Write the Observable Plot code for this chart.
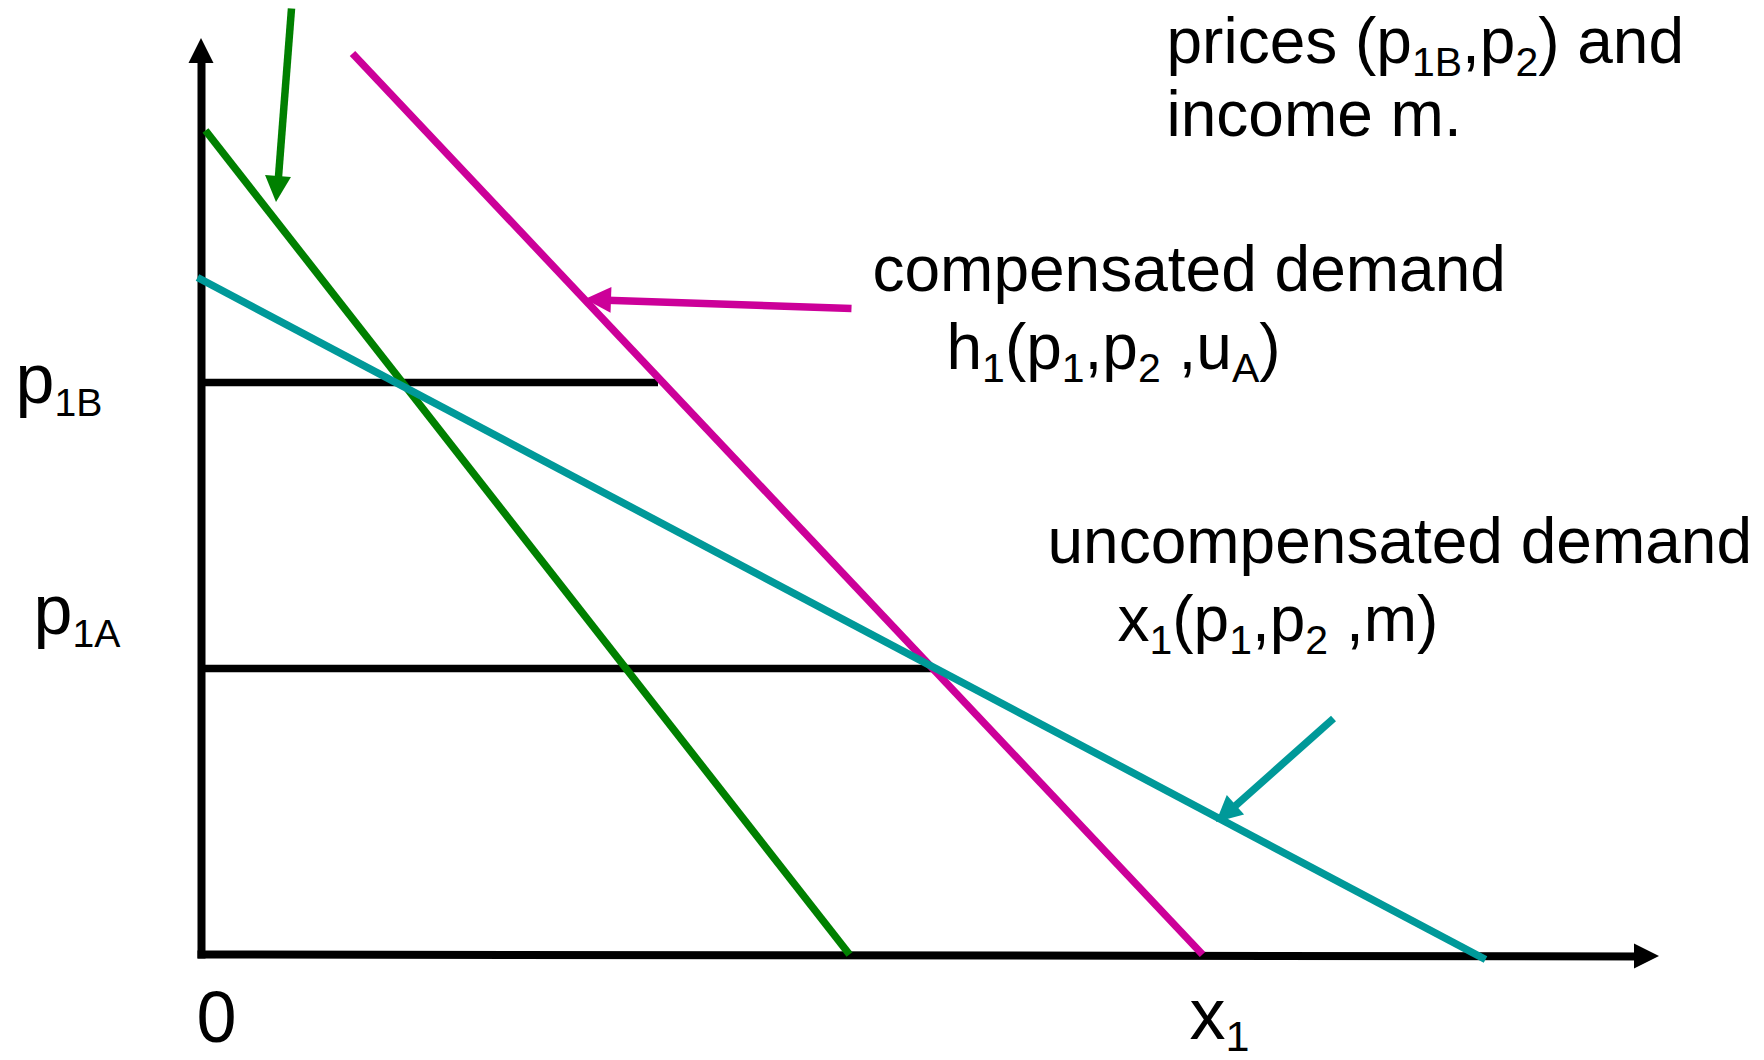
<!DOCTYPE html>
<html>
<head>
<meta charset="utf-8">
<script src="https://cdn.jsdelivr.net/npm/d3@7"></script>
<script src="https://cdn.jsdelivr.net/npm/@observablehq/plot@0.6"></script>
<style>
  html, body { margin: 0; padding: 0; background: #ffffff; }
  #chart { width: 1764px; height: 1060px; overflow: hidden; }
</style>
</head>
<body>
<div id="chart"></div>
<script>
// ---- data (quantity x1 on x, price p1 on y; abstract units) ----
const seriesNames = ["axis", "demand at (p1B,p2), m", "compensated demand", "uncompensated demand"];
const seriesColors = ["#000000", "#008000", "#CC0099", "#009999"];

// demand lines
const demandSeries = ["demand at (p1B,p2), m", "compensated demand", "uncompensated demand"];
const demandX1 = [0.04, 1.51, -0.04];
const demandY1 = [8.24, 9.01, 6.77];
const demandX2 = [6.48, 10.01, 12.84];
const demandY2 = [0, 0, -0.05];

// price levels
const priceNames = ["p_{1B}", "p_{1A}"];
const priceValues = [5.72, 2.86];
const priceQuantityEnds = [4.57, 7.32];
const priceLabelX = [-1.86, -1.68];
const priceLabelY = [5.52, 3.21];

// arrows (axes and pointers)
const arrowSeries = ["axis", "axis", "demand at (p1B,p2), m", "compensated demand", "uncompensated demand"];
const arrowX1 = [0, -0.04, 0.90, 6.50, 11.32];
const arrowY1 = [-0.04, 0, 9.46, 6.46, 2.36];
const arrowX2 = [0, 14.58, 0.75, 3.84, 10.15];
const arrowY2 = [9.16, -0.02, 7.52, 6.55, 1.32];

// annotations (multi-line notes: anchor is the baseline of the last line)
const noteTexts = ["prices (p_{1B},p_{2}) and\nincome m.", "compensated demand", "h_{1}(p_{1},p_{2} ,u_{A})", "uncompensated demand", "x_{1}(p_{1},p_{2} ,m)"];
const noteX = [9.65, 6.71, 7.45, 8.46, 9.16];
const noteY = [8.19, 6.64, 5.86, 3.92, 3.14];

// axis labels
const axisLabelTexts = ["0", "x_{1}"];
const axisLabelX = [0.15, 9.88];
const axisLabelY = [-0.87, -0.84];

// ---- tables ----
const demands = demandSeries.map((s, i) => ({series: s, x1: demandX1[i], y1: demandY1[i], x2: demandX2[i], y2: demandY2[i]}));
const levels = priceNames.map((n, i) => ({name: n, p: priceValues[i], q: priceQuantityEnds[i], lx: priceLabelX[i], ly: priceLabelY[i]}));
const arrows = arrowSeries.map((s, i) => ({series: s, x1: arrowX1[i], y1: arrowY1[i], x2: arrowX2[i], y2: arrowY2[i]}));
const notes = noteTexts.map((t, i) => ({text: t, x: noteX[i], y: noteY[i]}));
const axisLabels = axisLabelTexts.map((t, i) => ({text: t, x: axisLabelX[i], y: axisLabelY[i]}));

const axisArrows = arrows.filter(d => d.series === "axis");
const pointerArrows = arrows.filter(d => d.series !== "axis");

// filled triangular arrowheads, positioned through Plot's scales
function arrowHeads(list, len, half) {
  return (index, scales) => {
    const g = d3.create("svg:g").attr("aria-label", "arrowheads");
    for (const a of list) {
      const x1 = scales.x(a.x1), y1 = scales.y(a.y1), x2 = scales.x(a.x2), y2 = scales.y(a.y2);
      const dx = x2 - x1, dy = y2 - y1, l = Math.hypot(dx, dy);
      const ux = dx / l, uy = dy / l;
      const bx = x2 - ux * len, by = y2 - uy * len;
      const pts = [[x2, y2], [bx - uy * half, by + ux * half], [bx + uy * half, by - ux * half]];
      g.append("path")
        .attr("d", "M" + pts.map(p => p.join(",")).join("L") + "Z")
        .attr("fill", scales.color(a.series));
    }
    return g.node();
  };
}

const font = "'Liberation Sans', Arial, Helvetica, sans-serif";

const chart = Plot.plot({
  width: 1764,
  height: 1060,
  marginLeft: 201,
  marginRight: 105,
  marginTop: 43,
  marginBottom: 106,
  x: {domain: [0, 14.58], axis: null},
  y: {domain: [0, 9.11], axis: null},
  color: {domain: seriesNames, range: seriesColors},
  style: {fontFamily: font, background: "#ffffff", overflow: "visible", color: "#000000"},
  marks: [
    // axes
    Plot.arrow(axisArrows, {x1: "x1", y1: "y1", x2: "x2", y2: "y2", stroke: "series", strokeWidth: 8, headLength: 0, insetEnd: 14, strokeLinecap: "butt"}),
    arrowHeads(axisArrows, 25, 12.5),
    // price levels
    Plot.ruleY(levels, {y: "p", x1: 0, x2: "q", stroke: "#000000", strokeWidth: 7.5}),
    // demand curves
    Plot.link(demands, {x1: "x1", y1: "y1", x2: "x2", y2: "y2", stroke: "series", strokeWidth: 7.5, strokeLinecap: "butt"}),
    // pointer arrows
    Plot.arrow(pointerArrows, {x1: "x1", y1: "y1", x2: "x2", y2: "y2", stroke: "series", strokeWidth: 7.5, headLength: 0, insetEnd: 14, strokeLinecap: "butt"}),
    arrowHeads(pointerArrows, 26, 13),
    // texts
    Plot.text(notes, {x: "x", y: "y", text: "text", textAnchor: "start", lineAnchor: "bottom", lineHeight: 1.14, fontSize: 64, fill: "#000000", fontFamily: font}),
    Plot.text(levels, {x: "lx", y: "ly", text: "name", textAnchor: "start", lineAnchor: "bottom", fontSize: 70, fill: "#000000", fontFamily: font}),
    Plot.text(axisLabels.slice(0, 1), {x: "x", y: "y", text: "text", textAnchor: "middle", lineAnchor: "bottom", fontSize: 72, fill: "#000000", fontFamily: font}),
    Plot.text(axisLabels.slice(1), {x: "x", y: "y", text: "text", textAnchor: "start", lineAnchor: "bottom", fontSize: 72, fill: "#000000", fontFamily: font})
  ]
});

// turn "_{...}" markup into subscript tspans
const subStyle = {64: [0.64, 13], 70: [0.56, 13], 72: [0.6, 12]};
function subscriptify(node, base) {
  const s = node.textContent;
  if (!s.includes("_{")) return;
  const [ratio, shift] = subStyle[base] || [0.6, base * 0.2];
  const parts = s.split(/(_\{[^}]*\})/).filter(p => p.length);
  node.textContent = "";
  let lowered = false;
  for (const p of parts) {
    const t = document.createElementNS("http://www.w3.org/2000/svg", "tspan");
    if (p.startsWith("_{")) {
      t.textContent = p.slice(2, -1);
      t.setAttribute("font-size", base * ratio);
      t.setAttribute("dy", lowered ? 0 : shift);
      lowered = true;
    } else {
      t.textContent = p;
      if (lowered) t.setAttribute("dy", -shift);
      lowered = false;
    }
    node.appendChild(t);
  }
}
d3.select(chart).selectAll("text").each(function () {
  let el = this, base = 64;
  while (el && el.getAttribute) {
    const fs = el.getAttribute("font-size");
    if (fs) { base = parseFloat(fs); break; }
    el = el.parentNode;
  }
  const lines = Array.from(this.children).filter(c => c.tagName.toLowerCase() === "tspan");
  if (lines.length) lines.forEach(l => subscriptify(l, base));
  else subscriptify(this, base);
});

document.getElementById("chart").appendChild(chart);
</script>
</body>
</html>
